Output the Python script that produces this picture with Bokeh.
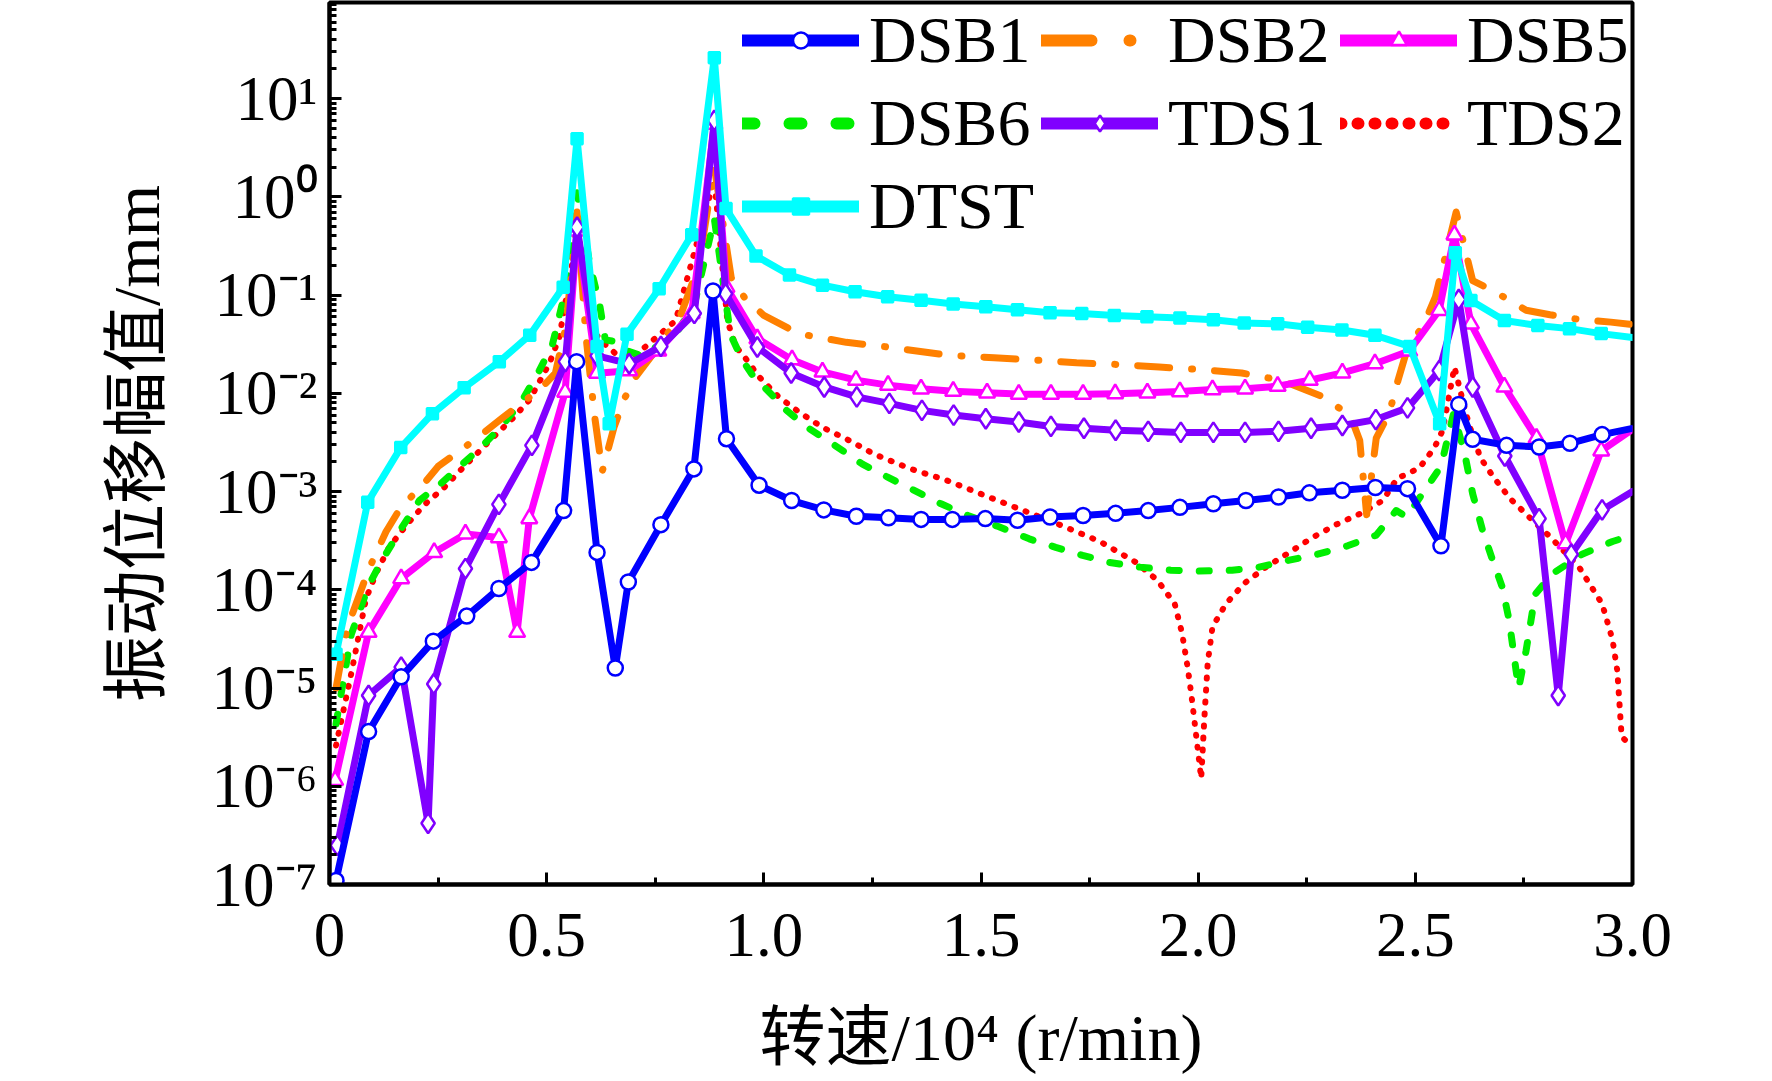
from bokeh.plotting import figure
from bokeh.models import Range1d, FixedTicker, Legend, LegendItem
from bokeh.embed import file_html
from bokeh.resources import INLINE

# ---- data (x in 10^4 r/min, y in mm) ----
dsb1_x = [0.015, 0.09, 0.165, 0.239, 0.316, 0.39, 0.465, 0.539, 0.569, 0.616, 0.658, 0.688,
          0.763, 0.839, 0.883, 0.914, 0.989, 1.064, 1.138, 1.213, 1.287, 1.362, 1.434, 1.51,
          1.584, 1.659, 1.735, 1.81, 1.885, 1.958, 2.035, 2.11, 2.185, 2.256, 2.332, 2.408,
          2.482, 2.559, 2.6, 2.632, 2.71, 2.785, 2.856, 2.93, 3.0]
dsb1_y = [1.1e-7, 3.6e-6, 1.3e-5, 3.0e-5, 5.4e-5, 1.03e-4, 1.9e-4, 6.4e-4, 2.1e-2, 2.4e-4,
          1.6e-5, 1.2e-4, 4.6e-4, 1.7e-3, 0.11, 3.45e-3, 1.16e-3, 8.1e-4, 6.5e-4, 5.6e-4,
          5.4e-4, 5.2e-4, 5.2e-4, 5.3e-4, 5.1e-4, 5.5e-4, 5.7e-4, 6.0e-4, 6.4e-4, 6.9e-4,
          7.5e-4, 8.1e-4, 8.8e-4, 9.7e-4, 1.03e-3, 1.1e-3, 1.07e-3, 2.8e-4, 7.7e-3, 3.4e-3,
          2.95e-3, 2.84e-3, 3.1e-3, 3.8e-3, 4.4e-3]

dsb2_x = [0.015, 0.04, 0.065, 0.09, 0.13, 0.165, 0.21, 0.25, 0.3, 0.35, 0.4, 0.445, 0.485,
          0.52, 0.545, 0.57, 0.59, 0.61, 0.628, 0.655, 0.68, 0.705, 0.758, 0.81, 0.85, 0.886,
          0.925, 0.955, 1.0, 1.058, 1.1, 1.19, 1.285, 1.425, 1.53, 1.63, 1.72, 1.82, 1.91,
          2.007, 2.1, 2.19, 2.28, 2.35, 2.372, 2.388, 2.41, 2.44, 2.46, 2.48, 2.52, 2.546,
          2.594, 2.632, 2.68, 2.755, 2.81, 2.87, 2.95, 3.0]
dsb2_y = [1e-5, 4e-5, 8e-5, 1.6e-4, 3.9e-4, 7e-4, 1.1e-3, 1.8e-3, 2.6e-3, 3.8e-3, 5.7e-3,
          8.1e-3, 0.011, 0.016, 0.05, 0.7, 0.04, 6e-3, 1.6e-3, 4.5e-3, 9e-3, 0.0147, 0.03,
          0.065, 0.2, 2.0, 0.15, 0.095, 0.062, 0.0455, 0.039, 0.033, 0.0296, 0.0244, 0.023,
          0.0217, 0.0204, 0.0196, 0.0185, 0.0174, 0.0161, 0.0136, 0.0095, 6e-3, 3.3e-3,
          5.8e-4, 3.5e-3, 6.3e-3, 0.0135, 0.027, 0.051, 0.095, 0.7, 0.14, 0.11, 0.07, 0.063,
          0.057, 0.053, 0.050]

dsb5_x = [0.013, 0.09, 0.165, 0.241, 0.313, 0.39, 0.432, 0.46, 0.5425, 0.57, 0.616, 0.69,
          0.757, 0.834, 0.886, 0.914, 0.985, 1.065, 1.135, 1.212, 1.286, 1.362, 1.436, 1.514,
          1.587, 1.661, 1.735, 1.809, 1.883, 1.958, 2.033, 2.108, 2.183, 2.257, 2.332, 2.407,
          2.486, 2.555, 2.59, 2.628, 2.705, 2.779, 2.846, 2.928, 3.0]
dsb5_y = [1.15e-6, 3.7e-5, 1.3e-4, 2.4e-4, 3.7e-4, 3.4e-4, 3.7e-5, 5.3e-4, 1.03e-2, 0.45,
          0.016, 0.017, 0.027, 0.065, 5.5, 0.12, 0.036, 0.022, 0.0165, 0.0136, 0.0121, 0.0111,
          0.0105, 0.0101, 0.0098, 0.0098, 0.0098, 0.0099, 0.0101, 0.0104, 0.0109, 0.0111,
          0.0118, 0.0136, 0.0161, 0.020, 0.027, 0.070, 0.41, 0.051, 0.0116, 3.5e-3, 2.95e-4,
          2.6e-3, 4.3e-3]

dsb6_x = [0.015, 0.05, 0.09, 0.118, 0.168, 0.207, 0.256, 0.306, 0.348, 0.398, 0.444, 0.483,
          0.513, 0.545, 0.57, 0.6, 0.622, 0.635, 0.652, 0.675, 0.72, 0.797, 0.84, 0.886, 0.923,
          0.95, 0.975, 1.02, 1.047, 1.10, 1.161, 1.227, 1.285, 1.408, 1.47, 1.54, 1.611, 1.672,
          1.734, 1.796, 1.866, 1.937, 2.0, 2.078, 2.14, 2.21, 2.275, 2.344, 2.41, 2.456, 2.48,
          2.517, 2.559, 2.588, 2.613, 2.632, 2.655, 2.678, 2.7, 2.716, 2.732, 2.738, 2.755,
          2.776, 2.815, 2.884, 2.954, 3.0]
dsb6_y = [4.3e-6, 3.5e-5, 1.1e-4, 1.9e-4, 4.4e-4, 8.1e-4, 1.2e-3, 1.9e-3, 2.8e-3, 4.7e-3,
          8.5e-3, 0.017, 0.031, 0.12, 1.1, 0.2, 0.08, 0.035, 0.034, 0.028, 0.024, 0.04, 0.08,
          0.6, 0.04, 0.022, 0.015, 0.0095, 7e-3, 4.5e-3, 3e-3, 1.9e-3, 1.4e-3, 7.5e-4, 5.7e-4,
          4.4e-4, 3.3e-4, 2.7e-4, 2.24e-4, 1.9e-4, 1.7e-4, 1.58e-4, 1.55e-4, 1.58e-4, 1.7e-4,
          2.0e-4, 2.3e-4, 2.8e-4, 3.6e-4, 6.4e-4, 5.5e-4, 9.6e-4, 1.8e-3, 6.2e-3, 2.5e-3,
          9.5e-4, 4e-4, 2e-4, 1.07e-4, 4.9e-5, 1.5e-5, 1.0e-5, 2.4e-5, 9e-5, 1.45e-4, 2.3e-4,
          3.1e-4, 3.6e-4]

tds1_x = [0.018, 0.09, 0.165, 0.227, 0.24, 0.313, 0.39, 0.466, 0.543, 0.57, 0.616, 0.69,
          0.763, 0.84, 0.886, 0.912, 0.985, 1.063, 1.139, 1.214, 1.289, 1.364, 1.437, 1.511,
          1.587, 1.661, 1.737, 1.81, 1.885, 1.96, 2.035, 2.108, 2.185, 2.26, 2.332, 2.409,
          2.482, 2.555, 2.6, 2.632, 2.706, 2.785, 2.829, 2.859, 2.93, 3.0]
tds1_y = [2.5e-7, 8.4e-6, 1.63e-5, 4.2e-7, 1.1e-5, 1.64e-4, 7.4e-4, 2.95e-3, 0.021, 0.49,
          0.024, 0.020, 0.030, 0.065, 6.0, 0.103, 0.0296, 0.0161, 0.0116, 0.0092, 0.0079,
          0.0067, 0.0060, 0.0055, 0.0051, 0.0046, 0.0044, 0.0042, 0.0041, 0.0040, 0.0040,
          0.0040, 0.0041, 0.0044, 0.0047, 0.0054, 0.0071, 0.017, 0.09, 0.0116, 2.3e-3, 5.3e-4,
          8.4e-6, 2.3e-4, 6.5e-4, 1.0e-3]

tds2_x = [0.015, 0.05, 0.084, 0.107, 0.137, 0.176, 0.218, 0.264, 0.31, 0.375, 0.421, 0.46,
          0.506, 0.529, 0.57, 0.59, 0.613, 0.636, 0.66, 0.698, 0.797, 0.886, 0.916, 0.935,
          0.954, 0.989, 1.034, 1.082, 1.135, 1.197, 1.254, 1.338, 1.421, 1.509, 1.598, 1.686,
          1.774, 1.857, 1.906, 1.946, 1.963, 1.976, 1.985, 1.995, 2.007, 2.014, 2.022, 2.033,
          2.064, 2.106, 2.156, 2.21, 2.263, 2.317, 2.375, 2.425, 2.46, 2.475, 2.51, 2.544,
          2.563, 2.59, 2.607, 2.623, 2.65, 2.68, 2.719, 2.762, 2.812, 2.877, 2.93, 2.954,
          2.965, 2.975, 3.0]
tds2_y = [2.6e-6, 1.4e-5, 8.1e-5, 1.46e-4, 2.7e-4, 4.5e-4, 7.3e-4, 1.1e-3, 1.8e-3, 3.5e-3,
          5.5e-3, 8.5e-3, 0.02, 0.037, 0.4, 0.12, 0.04, 0.031, 0.025, 0.023, 0.055, 1.5, 0.055,
          0.03, 0.024, 0.0147, 9.2e-3, 6.4e-3, 4.5e-3, 3.3e-3, 2.4e-3, 1.7e-3, 1.3e-3, 9.1e-4,
          6.4e-4, 4.5e-4, 3.1e-4, 1.9e-4, 1.25e-4, 7.2e-5, 3.6e-5, 1.6e-5, 8.1e-6, 3.4e-6,
          1.2e-6, 4.7e-6, 1.8e-5, 4.2e-5, 7.2e-5, 1.16e-4, 1.7e-4, 2.4e-4, 3.4e-4, 4.6e-4,
          6e-4, 8.1e-4, 1.4e-3, 1.46e-3, 1.75e-3, 2.8e-3, 4.2e-3, 0.0185, 9.2e-3, 4.9e-3,
          2.2e-3, 1.4e-3, 8.4e-4, 5.5e-4, 3.4e-4, 1.7e-4, 7.2e-5, 3.1e-5, 1.5e-5, 3.2e-6,
          2.5e-6]

dtst_x = [0.015, 0.088, 0.164, 0.237, 0.31, 0.391, 0.461, 0.538, 0.57, 0.616, 0.644, 0.685,
          0.759, 0.834, 0.886, 0.913, 0.982, 1.059, 1.135, 1.21, 1.285, 1.362, 1.436, 1.511,
          1.584, 1.659, 1.732, 1.807, 1.882, 1.958, 2.035, 2.106, 2.183, 2.252, 2.331, 2.407,
          2.487, 2.556, 2.592, 2.628, 2.705, 2.782, 2.855, 2.928, 3.0]
dtst_y = [2.2e-5, 7.8e-4, 2.8e-3, 6.2e-3, 1.14e-2, 2.1e-2, 3.9e-2, 0.12, 3.9, 0.030, 4.9e-3,
          0.040, 0.116, 0.41, 26, 0.76, 0.25, 0.16, 0.126, 0.108, 0.096, 0.0885, 0.081, 0.076,
          0.071, 0.066, 0.065, 0.062, 0.060, 0.0585, 0.056, 0.052, 0.051, 0.047, 0.044, 0.039,
          0.030, 4.9e-3, 0.27, 0.088, 0.055, 0.049, 0.0455, 0.0405, 0.037]

x_ticks = [0, 0.5, 1.0, 1.5, 2.0, 2.5, 3.0]
x_tick_labels = ["0", "0.5", "1.0", "1.5", "2.0", "2.5", "3.0"]
x_minor = [0.25, 0.75, 1.25, 1.75, 2.25, 2.75]
y_decades = [-7, -6, -5, -4, -3, -2, -1, 0, 1]

SERIF = "'Liberation Serif', 'Noto Sans CJK SC'"
SUP = str.maketrans("-0123456789", "\u207b\u2070\u00b9\u00b2\u00b3\u2074\u2075\u2076\u2077\u2078\u2079")
NAN = [float("nan")]


def draw(p, xs, ys, color, dash="solid", marker=None, size=15, fill="white",
         width=7, legend_dash=None):
    rs = [p.line(xs, ys, line_color=color, line_width=width, line_dash=dash,
                 line_cap="round", line_join="round")]
    if marker is not None:
        rs.append(p.scatter(xs[:-1], ys[:-1], marker=marker, size=size,
                            line_color=color, line_width=2.5, fill_color=fill))
    # thicker proxy glyphs (no visible data), only used by the legend
    lg = [p.line(NAN, NAN, line_color=color, line_width=12,
                 line_dash=legend_dash or dash, line_cap="round")]
    if marker is not None:
        lg.append(p.scatter(NAN, NAN, marker=marker, size=size + 5,
                            line_color=color, line_width=2.5, fill_color=fill))
    return rs, lg


p = figure(frame_width=1303, frame_height=882,
           x_range=Range1d(0, 3), y_range=Range1d(1e-7, 95), y_axis_type="log",
           output_backend="svg", toolbar_location=None,
           min_border_left=329, min_border_right=124, min_border_top=2, min_border_bottom=176)

p.xgrid.visible = False
p.ygrid.visible = False
p.outline_line_color = "black"
p.outline_line_width = 4
p.outline_line_alpha = 1.0
p.background_fill_color = "white"
p.border_fill_color = "white"

# axes
p.xaxis.ticker = FixedTicker(ticks=x_ticks, minor_ticks=x_minor)
p.xaxis.major_label_overrides = dict(zip(x_ticks, x_tick_labels))
y_major = [float("1e%d" % e) for e in y_decades]
y_minor = [m * float("1e%d" % e) for e in y_decades[:-1] + [1] for m in range(2, 10)]
p.yaxis.ticker = FixedTicker(ticks=y_major, minor_ticks=y_minor)
p.yaxis.major_label_overrides = {v: "10" + str(e).translate(SUP) for v, e in zip(y_major, y_decades)}

for ax in (p.xaxis[0], p.yaxis[0]):
    ax.axis_line_width = 4
    ax.major_tick_line_width = 3
    ax.minor_tick_line_width = 3
    ax.major_tick_in = 12
    ax.major_tick_out = 0
    ax.minor_tick_in = 7
    ax.minor_tick_out = 0
    ax.major_label_text_font = SERIF
    ax.major_label_text_font_size = "63px"
    ax.major_label_text_color = "black"
    ax.axis_label_text_font = SERIF
    ax.axis_label_text_font_size = "66px"
    ax.axis_label_text_font_style = "normal"
    ax.axis_label_text_color = "black"

p.xaxis.major_label_standoff = 29
p.xaxis.axis_label_standoff = 42
p.yaxis.major_label_standoff = 12
p.yaxis.axis_label_standoff = 36
p.xaxis.axis_label = "转速/10\u2074 (r/min)"
p.yaxis.axis_label = "振动位移幅值/mm"

# series, back to front
r_tds2, l_tds2 = draw(p, tds2_x, tds2_y, "#ff0000", dash="1 11", width=6, legend_dash="1 16")
r_dsb6, l_dsb6 = draw(p, dsb6_x, dsb6_y, "#00ee00", dash="10 20", legend_dash="12 35")
r_dsb2, l_dsb2 = draw(p, dsb2_x, dsb2_y, "#ff8000", dash="32 22 1 22", legend_dash="50 38 1 60")
r_dsb5, l_dsb5 = draw(p, dsb5_x, dsb5_y, "#ff00ff", marker="triangle", size=16)
r_tds1, l_tds1 = draw(p, tds1_x, tds1_y, "#8000ff", marker="diamond", size=20)
r_dsb1, l_dsb1 = draw(p, dsb1_x, dsb1_y, "#0000ff", marker="circle", size=15)
r_dtst, l_dtst = draw(p, dtst_x, dtst_y, "#00ffff", marker="square", size=11, fill="#00ffff")

items = [
    LegendItem(label="DSB1", renderers=l_dsb1),
    LegendItem(label="DSB2", renderers=l_dsb2),
    LegendItem(label="DSB5", renderers=l_dsb5),
    LegendItem(label="DSB6", renderers=l_dsb6),
    LegendItem(label="TDS1", renderers=l_tds1),
    LegendItem(label="TDS2", renderers=l_tds2),
    LegendItem(label="DTST", renderers=l_dtst),
]
legend = Legend(items=items, location="top_right", orientation="horizontal", ncols=3,
                label_text_font=SERIF, label_text_font_size="66px", label_text_color="black",
                glyph_width=117, glyph_height=40, label_standoff=10, label_width=165,
                spacing=7, padding=0, margin=0, border_line_alpha=0, background_fill_alpha=0)
p.add_layout(legend)

open("out.html", "w").write(file_html(p, INLINE))
